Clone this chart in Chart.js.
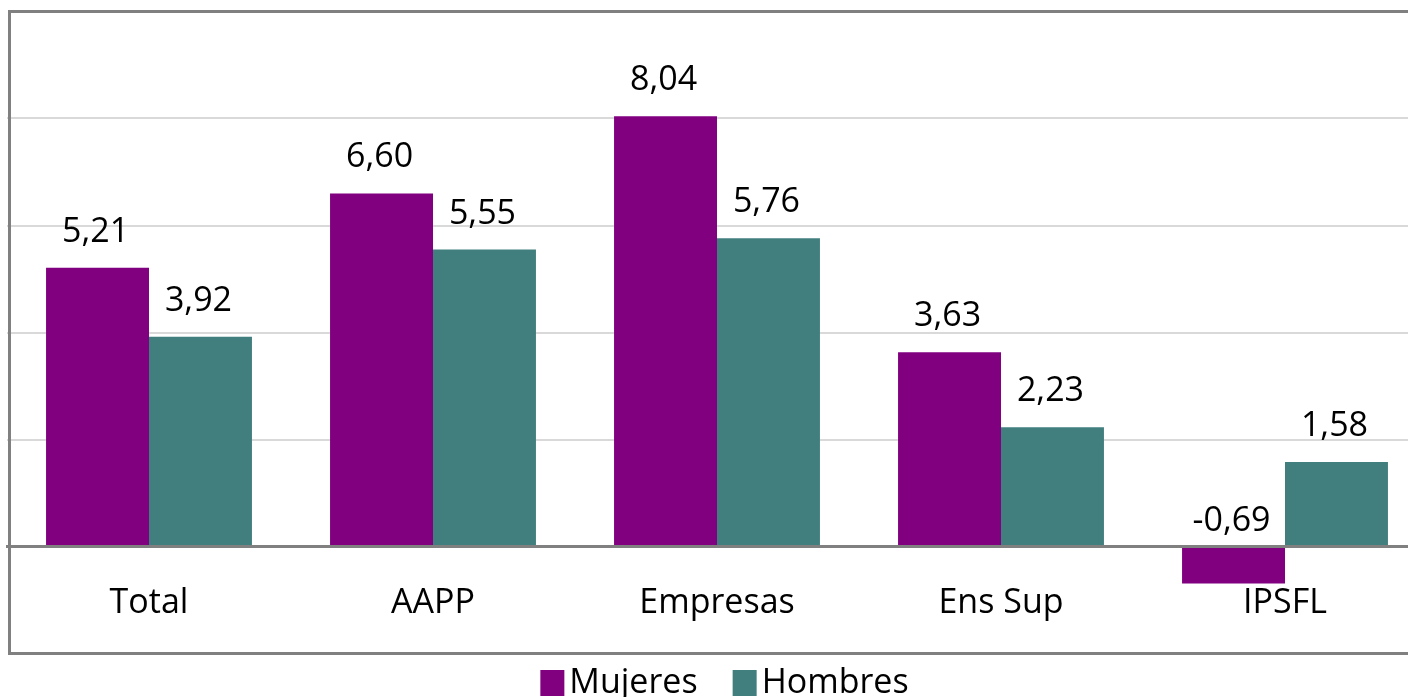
<!DOCTYPE html>
<html>
<head>
<meta charset="utf-8">
<script src="https://cdn.jsdelivr.net/npm/chart.js@4"></script>
<style>
  html, body { margin: 0; padding: 0; background: #ffffff; overflow: hidden; width: 1408px; height: 697px; }
  #wrap { position: absolute; left: 0; top: 0; width: 1442px; height: 697px; }
</style>
</head>
<body>
<div id="wrap"><canvas id="c" width="1442" height="697"></canvas></div>
<script>
const categories = ['Total', 'AAPP', 'Empresas', 'Ens Sup', 'IPSFL'];
const mujeres = [5.21, 6.60, 8.04, 3.63, -0.69];
const hombres = [3.92, 5.55, 5.76, 2.23, 1.58];
const seriesNames = ['Mujeres', 'Hombres'];
const seriesColors = ['#800080', '#417F7F'];
const yMin = -2, yMax = 10, yStep = 2;

const FONT = "'Open Sans', 'Noto Sans', sans-serif";
const FSIZE = 34;

const fmt = v => v.toFixed(2).replace('.', ',');

const framePlugin = {
  id: 'frame',
  afterDraw(chart) {
    const ctx = chart.ctx;
    ctx.save();
    ctx.strokeStyle = '#808080';
    ctx.lineWidth = 3;
    ctx.strokeRect(9.5, 11.5, 1460, 642);
    ctx.restore();
  }
};

const labelPlugin = {
  id: 'valueLabels',
  afterDatasetsDraw(chart) {
    const ctx = chart.ctx;
    ctx.save();
    ctx.font = FSIZE + 'px ' + FONT;
    ctx.fillStyle = '#000000';
    ctx.textAlign = 'center';
    ctx.textBaseline = 'alphabetic';
    chart.data.datasets.forEach((ds, di) => {
      const meta = chart.getDatasetMeta(di);
      meta.data.forEach((el, i) => {
        const v = ds.data[i];
        const y = v >= 0 ? el.y - 26 : el.base - 16.5;
        ctx.fillText(fmt(v), el.x - 2, y);
      });
    });
    ctx.restore();
  }
};

const legendPlugin = {
  id: 'customLegend',
  afterDraw(chart) {
    const ctx = chart.ctx;
    ctx.save();
    ctx.font = FSIZE + 'px ' + FONT;
    ctx.textBaseline = 'alphabetic';
    ctx.textAlign = 'left';
    const boxW = 24, boxH = 26, gapText = 5, gapItem = 35;
    const items = chart.data.datasets.map(ds => ({ text: ds.label, color: ds.backgroundColor, w: ctx.measureText(ds.label).width }));
    let total = 0;
    items.forEach((it, i) => { total += boxW + gapText + it.w + (i < items.length - 1 ? gapItem : 0); });
    let x = 724.5 - total / 2;
    items.forEach(it => {
      ctx.fillStyle = it.color;
      ctx.fillRect(x, 670, boxW, boxH);
      ctx.fillStyle = '#000000';
      ctx.fillText(it.text, x + boxW + gapText, 693);
      x += boxW + gapText + it.w + gapItem;
    });
    ctx.restore();
  }
};

new Chart(document.getElementById('c'), {
  type: 'bar',
  data: {
    labels: categories,
    datasets: [
      { label: seriesNames[0], data: mujeres, backgroundColor: seriesColors[0], borderWidth: 0 },
      { label: seriesNames[1], data: hombres, backgroundColor: seriesColors[1], borderWidth: 0 }
    ]
  },
  options: {
    responsive: false,
    animation: false,
    devicePixelRatio: 1,
    categoryPercentage: 0.725,
    barPercentage: 1,
    layout: { padding: { left: 7, right: 15, top: 11.5, bottom: 43.5 } },
    plugins: {
      legend: { display: false },
      tooltip: { enabled: false },
      title: { display: false }
    },
    scales: {
      x: {
        type: 'category',
        position: { y: 0 },
        grid: { display: false, drawTicks: false, z: 1 },
        border: { display: true, color: '#808080', width: 3, z: 1 },
        ticks: {
          font: { family: FONT, size: FSIZE },
          color: '#000000',
          padding: 36,
          maxRotation: 0,
          autoSkip: false
        }
      },
      y: {
        min: yMin,
        max: yMax,
        ticks: { display: false, stepSize: yStep },
        border: { display: false },
        grid: {
          drawTicks: false,
          lineWidth: 2,
          color: ctx => (ctx.tick && ctx.tick.value > 0 && ctx.tick.value < yMax) ? '#d9d9d9' : 'rgba(0,0,0,0)'
        },
        afterFit: s => { s.width = 0; }
      }
    }
  },
  plugins: [framePlugin, labelPlugin, legendPlugin]
});
</script>
</body>
</html>
